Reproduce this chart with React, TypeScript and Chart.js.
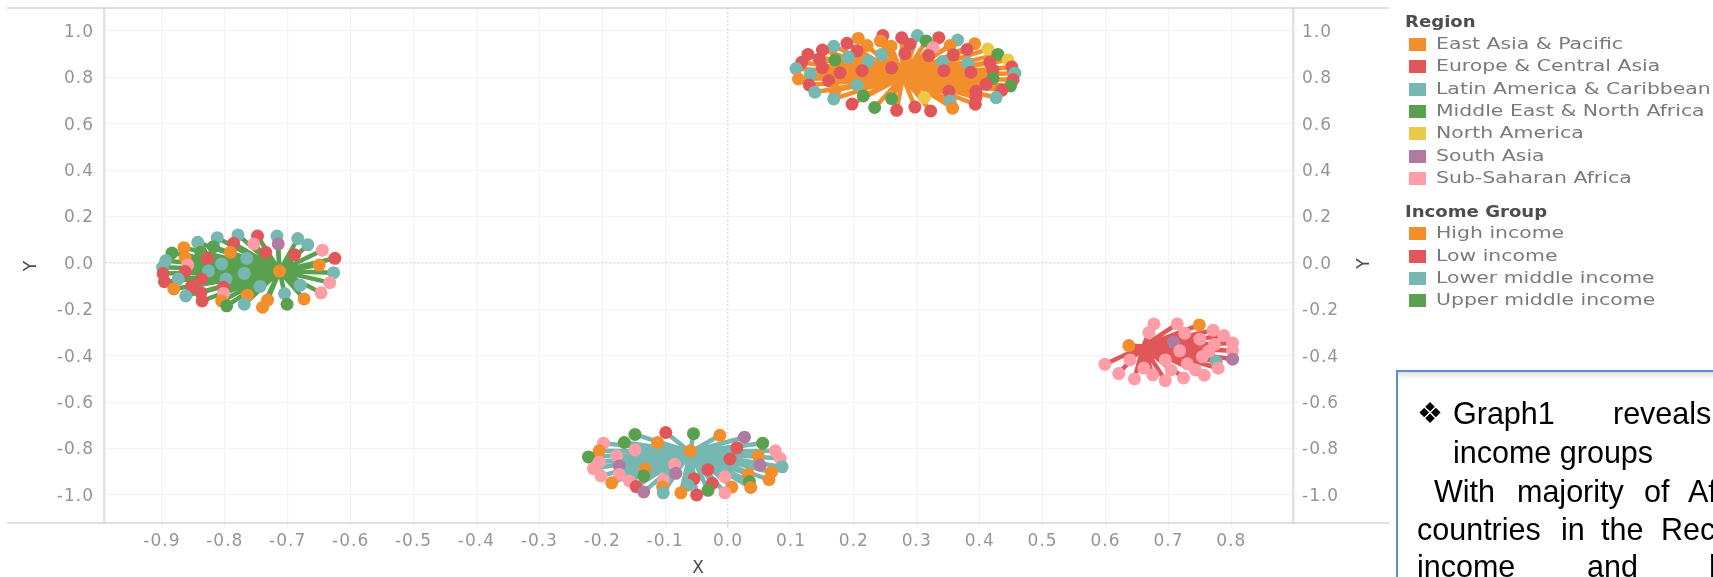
import React, { useEffect, useRef } from "react";
import { Chart, registerables } from "chart.js";

Chart.register(...registerables);

const regionNames = ["East Asia & Pacific", "Europe & Central Asia", "Latin America & Caribbean", "Middle East & North Africa", "North America", "South Asia", "Sub-Saharan Africa"];
const incomeNames = ["High income", "Low income", "Lower middle income", "Upper middle income"];
const regionKeys = ["O", "E", "T", "G", "Y", "S", "P"];
const palette = ["#F28E2B", "#E15759", "#76B7B2", "#59A14F", "#EDC948", "#B07AA1", "#FF9DA7"];
const incomeColors = ["#F28E2B", "#E15759", "#76B7B2", "#59A14F"];

const hubX = [0.278, 0.66, -0.06, -0.713];
const hubY = [0.803, -0.36, -0.815, -0.035];

const highX = [0.246,0.301,0.276,0.335,0.207,0.315,0.365,0.242,0.189,0.221,0.259,0.289,0.326,0.392,0.353,0.168,0.15,0.205,0.38,0.413,0.127,0.244,0.281,0.319,0.358,0.429,0.191,0.145,0.17,0.223,0.341,0.381,0.445,0.416,0.117,0.15,0.108,0.26,0.213,0.343,0.451,0.421,0.386,0.178,0.131,0.456,0.112,0.421,0.16,0.453,0.129,0.205,0.41,0.449,0.17,0.351,0.435,0.394,0.138,0.215,0.394,0.312,0.426,0.168,0.26,0.353,0.393,0.197,0.233,0.297,0.357,0.268,0.322];
const highY = [0.98,0.98,0.971,0.971,0.968,0.957,0.961,0.957,0.947,0.937,0.934,0.943,0.928,0.945,0.937,0.934,0.918,0.914,0.92,0.922,0.899,0.899,0.902,0.894,0.897,0.899,0.887,0.879,0.875,0.871,0.868,0.861,0.875,0.865,0.865,0.842,0.838,0.841,0.829,0.829,0.845,0.832,0.822,0.82,0.813,0.818,0.793,0.796,0.786,0.79,0.767,0.767,0.77,0.763,0.744,0.74,0.744,0.74,0.736,0.72,0.713,0.713,0.713,0.707,0.708,0.698,0.684,0.685,0.67,0.672,0.667,0.658,0.655];
const highRegion = "ETEEOGTOEOOEPOOTEEEYETEEEGTEGTTTYEEETEEEEEEETTOGEEETEGOEEETGEYTTGTEEGEOEE";

const upperX = [-0.779,-0.748,-0.717,-0.684,-0.812,-0.843,-0.786,-0.754,-0.715,-0.668,-0.818,-0.865,-0.645,-0.884,-0.838,-0.791,-0.735,-0.689,-0.863,-0.828,-0.765,-0.625,-0.894,-0.805,-0.859,-0.65,-0.899,-0.826,-0.863,-0.769,-0.898,-0.627,-0.874,-0.837,-0.798,-0.896,-0.633,-0.853,-0.881,-0.744,-0.68,-0.802,-0.838,-0.802,-0.647,-0.764,-0.705,-0.862,-0.836,-0.805,-0.732,-0.674,-0.797,-0.769,-0.701,-0.74,-0.713];
const upperY = [0.121,0.116,0.116,0.105,0.109,0.089,0.085,0.082,0.082,0.078,0.07,0.066,0.055,0.043,0.046,0.046,0.046,0.035,0.023,0.02,0.02,0.02,0.009,-0.004,-0.009,-0.009,-0.019,-0.035,-0.037,-0.045,-0.046,-0.042,-0.069,-0.07,-0.069,-0.081,-0.085,-0.101,-0.112,-0.101,-0.096,-0.105,-0.128,-0.131,-0.129,-0.139,-0.132,-0.142,-0.164,-0.164,-0.16,-0.155,-0.185,-0.178,-0.178,-0.191,-0.035];
const upperRegion = "TETTTTEPSTGOPGGOEEOETETTPOTTETETTETEPEOTTEEPPOTTEOOOGTGO";

const lowerMidX = [-0.099,-0.055,-0.148,-0.013,0.026,-0.112,-0.165,-0.198,0.055,0.014,-0.148,-0.205,0.075,-0.06,-0.177,-0.222,0.048,0.003,0.083,-0.205,0.086,-0.173,0.051,-0.085,-0.214,-0.132,-0.032,-0.083,0.069,-0.173,0.032,-0.134,-0.202,-0.005,-0.054,0.065,-0.157,-0.103,0.034,-0.025,-0.185,-0.064,-0.146,-0.104,0.006,0.036,-0.032,-0.134,-0.103,-0.075,-0.005,-0.05];
const lowerMidY = [-0.731,-0.736,-0.739,-0.743,-0.751,-0.774,-0.774,-0.777,-0.777,-0.797,-0.806,-0.81,-0.81,-0.81,-0.832,-0.836,-0.832,-0.845,-0.843,-0.859,-0.879,-0.875,-0.872,-0.868,-0.887,-0.888,-0.891,-0.907,-0.902,-0.912,-0.911,-0.918,-0.918,-0.922,-0.93,-0.934,-0.94,-0.935,-0.943,-0.95,-0.948,-0.958,-0.964,-0.966,-0.966,-0.968,-0.98,-0.987,-0.991,-0.991,-0.991,-1.0];
const lowerMidRegion = "EGGOSOGPGEPOPOPGOEPPTSSPPOESOPOGPPEOPPGEOTEOOOGSTOPE";

const lowX = [0.677,0.714,0.749,0.669,0.771,0.726,0.788,0.75,0.708,0.802,0.773,0.637,0.802,0.764,0.718,0.754,0.802,0.695,0.639,0.776,0.599,0.73,0.661,0.779,0.743,0.704,0.621,0.757,0.675,0.724,0.646,0.695];
const lowY = [-0.263,-0.263,-0.267,-0.3,-0.29,-0.303,-0.313,-0.329,-0.341,-0.345,-0.352,-0.356,-0.379,-0.381,-0.379,-0.404,-0.415,-0.418,-0.418,-0.425,-0.437,-0.435,-0.453,-0.454,-0.461,-0.461,-0.477,-0.484,-0.483,-0.496,-0.5,-0.507];
const lowRegion = "PPOPPPPPSPPOPPPPSPPTPPPPPPPPPPPP";

const clusterX = [highX, lowX, lowerMidX, upperX];
const clusterY = [highY, lowY, lowerMidY, upperY];
const clusterRegion = [highRegion, lowRegion, lowerMidRegion, upperRegion];

const xTickStep = 0.1;
const yTickStep = 0.2;

const boxWords: [string, number, number][] = [
  ["Graph1", 1453, 424], ["reveals", 1613, 424],
  ["income groups", 1453, 463],
  ["With", 1434, 502], ["majority", 1517, 502], ["of", 1644, 502], ["Af", 1688, 502],
  ["countries", 1417, 540], ["in", 1561, 540], ["the", 1601, 540], ["Rec", 1661, 540],
  ["income", 1417, 577], ["and", 1587, 577], ["l", 1709, 577],
];

const FONT = "'DejaVu Sans', sans-serif";
const tickColor = "#959595";
const isZero = (ctx: any) => ctx.tick && Math.abs(ctx.tick.value) < 1e-6;
const gridColor = (ctx: any) => (isZero(ctx) ? "#dcdcdc" : "#f3f3f3");
const gridDash = (ctx: any) => (isZero(ctx) ? [2, 2] : []);
const gridWidth = (ctx: any) => (isZero(ctx) ? 1.5 : 1.2);

const framePlugin = {
  id: "frame",
  beforeDraw(chart: any) {
    chart.ctx.letterSpacing = "1px";
  },
  afterDraw(chart: any) {
    const { ctx, chartArea: a } = chart;
    ctx.save();
    ctx.letterSpacing = "0px";
    ctx.strokeStyle = "#d6d6d6";
    ctx.lineWidth = 1.5;
    ctx.beginPath();
    ctx.moveTo(7, a.top);
    ctx.lineTo(a.right + 96, a.top);
    ctx.moveTo(7, a.bottom);
    ctx.lineTo(a.right + 96, a.bottom);
    ctx.stroke();
    ctx.translate(a.right + 72, (a.top + a.bottom) / 2 - 2);
    ctx.rotate(-Math.PI / 2);
    ctx.font = "17px " + FONT;
    ctx.fillStyle = "#4a4a4a";
    ctx.textAlign = "center";
    ctx.textBaseline = "middle";
    ctx.fillText("Y", 0, 0);
    ctx.restore();
  },
};

const swatchRows: { title: string; names: string[]; colors: string[]; top: number; rows: number[] }[] = [
  { title: "Region", names: regionNames, colors: palette, top: 22, rows: [44, 66, 89, 111, 133, 156, 178] },
  { title: "Income Group", names: incomeNames, colors: incomeColors, top: 212, rows: [233, 256, 278, 300] },
];

export default function App() {
  const ref = useRef<HTMLCanvasElement>(null);
  useEffect(() => {
    const datasets: any[] = [];
    clusterX.forEach((xs, c) => {
      const regions = clusterRegion[c];
      datasets.push({
        label: "dots " + incomeNames[c],
        data: xs.map((x, i) => ({ x, y: clusterY[c][i] })),
        pointRadius: 6.5,
        pointHoverRadius: 6.5,
        pointBorderWidth: 0,
        pointBackgroundColor: xs.map((_, i) => palette[regionKeys.indexOf(regions[i])]),
        showLine: false,
        order: 1,
      });
    });
    clusterX.forEach((xs, c) => {
      const path: { x: number; y: number }[] = [];
      xs.forEach((x, i) => {
        path.push({ x: hubX[c], y: hubY[c] });
        path.push({ x, y: clusterY[c][i] });
      });
      datasets.push({
        label: "spokes " + incomeNames[c],
        data: path,
        showLine: true,
        pointRadius: 0,
        borderColor: incomeColors[c],
        borderWidth: 4.5,
        borderJoinStyle: "round",
        tension: 0,
        order: 2,
      });
    });
    const tickFont = { family: FONT, size: 17 };
    const label = (v: any) => Number(v).toFixed(1);
    const chart = new Chart(ref.current!, {
      type: "scatter",
      data: { datasets },
      plugins: [framePlugin],
      options: {
        animation: false,
        responsive: false,
        layout: { padding: { top: 8, left: 0, right: 0, bottom: 0 } },
        plugins: { legend: { display: false }, tooltip: { enabled: false } },
        scales: {
          x: {
            type: "linear",
            min: -0.992,
            max: 0.898,
            afterFit: (s: any) => { s.height = 54; s.paddingLeft = 0; s.paddingRight = 0; },
            border: { display: false, dash: gridDash },
            grid: { color: gridColor, lineWidth: gridWidth, tickLength: 5, drawTicks: true },
            ticks: { stepSize: xTickStep, includeBounds: false, autoSkip: false, maxRotation: 0, minRotation: 0, color: tickColor, font: tickFont, padding: 3, callback: label },
            title: { display: true, text: "X", color: "#4a4a4a", font: { family: FONT, size: 17 }, padding: { top: 0, bottom: -2 } },
          },
          y: {
            type: "linear",
            position: "left",
            min: -1.121,
            max: 1.099,
            afterFit: (s: any) => { s.width = 104; s.paddingTop = 0; s.paddingBottom = 0; },
            border: { display: true, color: "#e2e2e2", width: 2.5, dash: gridDash },
            grid: { color: gridColor, lineWidth: gridWidth, tickLength: 0 },
            ticks: { stepSize: yTickStep, includeBounds: false, autoSkip: false, color: tickColor, font: tickFont, padding: 10, labelOffset: 1.5, callback: label },
            title: { display: true, text: "Y", color: "#4a4a4a", font: { family: FONT, size: 17 }, padding: { top: 21, bottom: 0 } },
          },
          y2: {
            type: "linear",
            position: "right",
            min: -1.121,
            max: 1.099,
            afterFit: (s: any) => { s.width = 420; s.paddingTop = 0; s.paddingBottom = 0; },
            border: { display: true, color: "#e2e2e2", width: 2.5 },
            grid: { drawOnChartArea: false, color: "#f1f1f1", tickLength: 5 },
            ticks: { stepSize: yTickStep, includeBounds: false, autoSkip: false, color: tickColor, font: tickFont, padding: 4, labelOffset: 1.5, callback: label },
          },
        },
      } as any,
    });
    return () => chart.destroy();
  }, []);

  return (
    <div style={{ position: "fixed", left: 0, top: 0, width: 1713, height: 577, overflow: "hidden", background: "#fff" }}>
      <canvas ref={ref} width={1713} height={577} style={{ display: "block", width: 1713, height: 577, filter: "blur(0.45px)" }} />
      <div style={{ position: "absolute", left: 0, top: 0, width: 1713, height: 577, pointerEvents: "none", filter: "blur(0.35px)", fontFamily: FONT }}>
        {swatchRows.map((g) => (
          <React.Fragment key={g.title}>
            <div style={{ position: "absolute", left: 1405, top: g.top - 11, height: 22, lineHeight: "22px", fontSize: 16, fontWeight: 700, color: "#4d4d4d", whiteSpace: "nowrap", transform: "scaleX(1.13)", transformOrigin: "left center" }}>{g.title}</div>
            {g.names.map((n, i) => (
              <React.Fragment key={n}>
                <div style={{ position: "absolute", left: 1409, top: g.rows[i] - 6, width: 17, height: 13, background: g.colors[i] }} />
                <div style={{ position: "absolute", left: 1436, top: g.rows[i] - 11, height: 22, lineHeight: "22px", fontSize: 16.5, color: "#7a7a7a", whiteSpace: "nowrap", transform: "scaleX(1.237)", transformOrigin: "left center" }}>{n}</div>
              </React.Fragment>
            ))}
          </React.Fragment>
        ))}
      </div>
      <div style={{ position: "absolute", left: 1396, top: 370, width: 500, height: 400, boxSizing: "border-box", border: "2px solid #5b8fd0", background: "#fff", boxShadow: "inset 0 7px 7px -5px rgba(0,0,0,0.18)" }} />
      <div style={{ position: "absolute", left: 1417, top: 396, height: 34, lineHeight: "34px", fontSize: 29, fontFamily: "'DejaVu Sans', sans-serif", color: "#000" }}>❖</div>
      {boxWords.map(([t, x, b]) => (
        <div key={t + x + b} style={{ position: "absolute", left: x, top: b - 26, height: 31, lineHeight: "31px", fontSize: 30.5, fontFamily: "'Liberation Sans', sans-serif", color: "#000", whiteSpace: "nowrap" }}>{t}</div>
      ))}
    </div>
  );
}
